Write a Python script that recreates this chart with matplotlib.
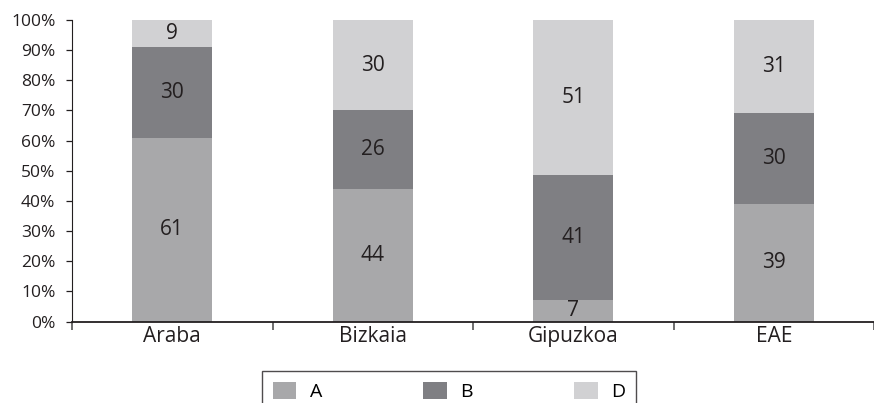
import matplotlib.pyplot as plt
import numpy as np

plt.rcParams['font.family'] = ['Open Sans', 'DejaVu Sans']

regions = ['Araba', 'Bizkaia', 'Gipuzkoa', 'EAE']
model_a = [61, 44, 7, 39]
model_b = [30, 26, 41, 30]
model_d = [9, 30, 51, 31]

colors = {'A': '#a8a8aa', 'B': '#7f7f83', 'D': '#d1d1d3'}

# 100% stacked: each bar is normalised by its own total
data = np.array([model_a, model_b, model_d], dtype=float)
shares = data / data.sum(axis=0) * 100

fig = plt.figure(figsize=(8.74, 4.03), dpi=100)
ax = fig.add_axes([72 / 874, 1 - 321.5 / 403, 802 / 874, 301.5 / 403])

x = np.arange(len(regions))
bottom = np.zeros(len(regions))
for name, vals, raw in zip(['A', 'B', 'D'], shares, data):
    bars = ax.bar(x, vals, width=0.4, bottom=bottom, color=colors[name],
                  label=name, zorder=2)
    ax.bar_label(bars, labels=[f'{int(v)}' for v in raw], label_type='center',
                 fontsize=15, color='#231f20')
    bottom += vals

ax.set_xlim(-0.5, len(regions) - 0.5)
ax.set_ylim(0, 100)
ax.set_yticks(np.arange(0, 101, 10))
ax.set_yticklabels([f'{v}%' for v in range(0, 101, 10)])
ax.set_xticks(x)
ax.set_xticklabels(regions)
ax.set_xticks(np.arange(-0.5, len(regions), 1), minor=True)

for side in ['top', 'right']:
    ax.spines[side].set_visible(False)
ax.spines['left'].set_color('#231f20')
ax.spines['bottom'].set_color('#231f20')
ax.spines['bottom'].set_linewidth(1.3)

ax.tick_params(axis='y', length=4, width=0.9, pad=8, labelsize=12.5,
               colors='#231f20')
ax.tick_params(axis='x', which='major', length=0, pad=3, labelsize=15,
               colors='#231f20')
ax.tick_params(axis='x', which='minor', length=6, width=1.2, color='#555555')

fig.legend(loc='upper left', bbox_to_anchor=(262 / 874, 1 - 375 / 403, 374 / 874, 0.01),
           mode='expand', ncol=3, frameon=True, fancybox=False,
           edgecolor='#231f20', fontsize=14, handlelength=1.2, handleheight=1.0,
           borderaxespad=0, borderpad=0.55, handletextpad=0.7)

plt.savefig('out.png', dpi=100)
